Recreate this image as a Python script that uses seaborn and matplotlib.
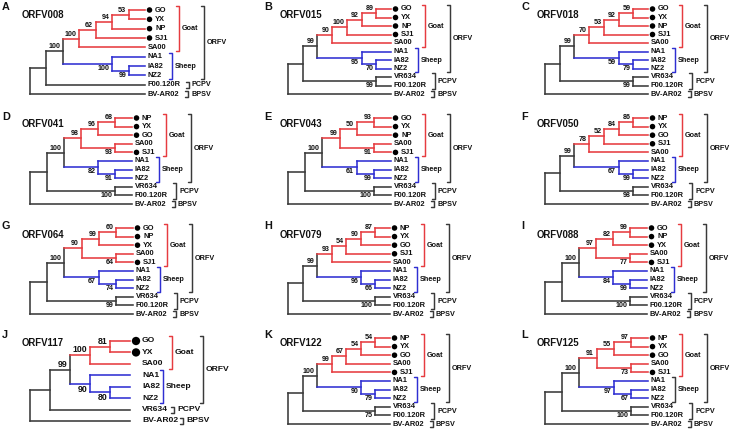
import numpy as np
import pandas as pd
import seaborn as sns
import matplotlib.pyplot as plt

# panels, left to right and top to bottom
letters = ["A", "B", "C", "D", "E", "F", "G", "H", "I", "J", "K", "L"]
genes = ["ORFV008", "ORFV015", "ORFV018", "ORFV041", "ORFV043", "ORFV050",
         "ORFV064", "ORFV079", "ORFV088", "ORFV117", "ORFV122", "ORFV125"]

# sub-trees in newick with bootstrap support, tips written top to bottom
goat_clades = [
    "((((GO,YX)53,NP)94,SJ1)62,SA00)100",
    "((((GO,YX)89,NP)92,SJ1)100,SA00)90",
    "((((GO,YX)59,NP)92,SJ1)53,SA00)70",
    "(((NP,YX)68,GO)96,(SA00,SJ1)93)98",
    "(((GO,YX)93,NP)50,(SA00,SJ1)91)99",
    "((((NP,YX)86,GO)84,SJ1)52,SA00)78",
    "(((GO,NP)60,YX)99,(SA00,SJ1)64)90",
    "((((NP,YX)87,GO)90,SJ1)54,SA00)93",
    "(((GO,NP)99,YX)82,(SA00,SJ1)77)97",
    "((GO,YX)81,SA00)100",
    "((((NP,YX)54,GO)54,SA00)67,SJ1)99",
    "(((NP,YX)97,GO)55,(SA00,SJ1)73)91",
]
sheep_clades = [
    "(NA1,(IA82,NZ2)99)100", "(NA1,(IA82,NZ2)70)95", "(NA1,(IA82,NZ2)79)59",
    "(NA1,(IA82,NZ2)91)82", "(NA1,(IA82,NZ2)99)61", "(NA1,(IA82,NZ2)99)67",
    "(NA1,(IA82,NZ2)74)67", "(NA1,(IA82,NZ2)66)96", "(NA1,(IA82,NZ2)99)84",
    "(NA1,(IA82,NZ2)80)90", "(NA1,(IA82,NZ2)79)90", "(NA1,(IA82,NZ2)67)97",
]
orfv_support = ["100", "99", "99", "100", "100", "99", "100", "99", "100", "99", "100", "100"]
pcpv_clades = [
    "F00.120R", "(VR634,F00.120R)99", "(VR634,F00.120R)99",
    "(VR634,F00.120R)100", "(VR634,F00.120R)100", "(VR634,F00.120R)98",
    "(VR634,F00.120R)99", "(VR634,F00.120R)100", "(VR634,F00.120R)100",
    "VR634", "(VR634,F00.120R)75", "(VR634,F00.120R)100",
]

dot_tips = ["GO", "YX", "NP", "SJ1"]
goat_tips = ["GO", "YX", "NP", "SJ1", "SA00"]
sheep_tips = ["NA1", "IA82", "NZ2"]
pcpv_tips = ["VR634", "F00.120R"]
bpsv_tips = ["BV-AR02"]

# layout (pixels)
col_x = [0, 243, 485]
letter_dx = [2, 21, 36]
title_dx = [22, 37, 52]
root_dx = [30, 45, 60]
tip_dx = [145, 148, 163, 132, 148, 163, 133, 147, 162, 130, 147, 163]
top_y = [10, 9, 9, 118, 118, 118, 228, 228, 228, 341, 338, 338]
bot_y = [94, 94, 94, 204, 204, 204, 314, 314, 314, 421, 424, 424]
letter_y = [7, 117, 226, 335]
title_y = [15, 124, 235, 343]

RED, BLUE, GRAY = "#e63c40", "#2f2fd2", "#3a3a3a"
pal = {"goat": RED, "sheep": BLUE, "other": GRAY}


def parse(s):
    pos = 0

    def read():
        nonlocal pos
        if s[pos] == "(":
            pos += 1
            kids = [read()]
            while s[pos] == ",":
                pos += 1
                kids.append(read())
            pos += 1
            start = pos
            while pos < len(s) and s[pos] not in ",)":
                pos += 1
            return {"kids": kids, "name": None, "support": s[start:pos] or None}
        start = pos
        while s[pos] not in ",)":
            pos += 1
        return {"kids": [], "name": s[start:pos], "support": None}

    return read()


def leaves(n):
    if not n["kids"]:
        return [n["name"]]
    return [t for k in n["kids"] for t in leaves(k)]


def depth(n):
    return 0 if not n["kids"] else 1 + max(depth(k) for k in n["kids"])


def place(n, x_tip, step, ys, counter):
    if not n["kids"]:
        n["x"], n["y"] = x_tip, ys[counter[0]]
        counter[0] += 1
        return
    for k in n["kids"]:
        place(k, x_tip, step, ys, counter)
    n["x"] = x_tip - step * depth(n)
    n["y"] = (n["kids"][0]["y"] + n["kids"][-1]["y"]) / 2


def paint(n, clade, goat_set, sheep_set):
    tips = set(leaves(n))
    if tips == goat_set:
        clade = "goat"
    elif tips == sheep_set:
        clade = "sheep"
    n["clade"] = clade
    for k in n["kids"]:
        paint(k, clade, goat_set, sheep_set)


seg_rows, brk_rows, dot_rows, texts = [], [], [], []
seg_id = [0]


def add_line(rows, pts, clade):
    for x, y in pts:
        rows.append({"seg": seg_id[0], "x": x, "y": y, "clade": clade})
    seg_id[0] += 1


def collect(n, parent, big):
    if parent is not None:
        add_line(seg_rows, [(parent["x"], n["y"]), (n["x"], n["y"])], n["clade"])
    if not n["kids"]:
        return
    add_line(seg_rows, [(n["x"], n["kids"][0]["y"]), (n["x"], n["kids"][-1]["y"])], n["clade"])
    if parent is not None and n["support"]:
        fs = 6.3 if big else 5.1
        if n["y"] < parent["y"]:
            texts.append((n["x"] - 2.5, n["y"] - 1.0, n["support"], fs, "right", "bottom"))
        else:
            texts.append((n["x"] - 2.5, n["y"] + 1.0, n["support"], fs, "right", "top"))
    for k in n["kids"]:
        collect(k, n, big)


for i in range(len(letters)):
    col, row = i % 3, i // 3
    ox = col_x[col]
    big = letters[i] == "J"
    newick = ("(((" + goat_clades[i] + "," + sheep_clades[i] + ")" + orfv_support[i]
              + "," + pcpv_clades[i] + "),BV-AR02)")
    root = parse(newick)
    tips = leaves(root)
    ys = np.linspace(top_y[i], bot_y[i], len(tips))
    x_tip = ox + tip_dx[i]
    step = (tip_dx[i] - root_dx[col]) / depth(root)
    place(root, x_tip, step, ys, [0])
    paint(root, "other", set(goat_tips) & set(tips), set(sheep_tips) & set(tips))
    collect(root, None, big)

    # panel letter and gene name
    texts.append((ox + letter_dx[col], letter_y[row], letters[i], 7.8, "left", "center"))
    texts.append((ox + title_dx[col], title_y[row], genes[i], 6.9, "left", "center"))

    # tip labels and dots
    tip_fs = 6.1 if big else 5.4
    for t, y in zip(tips, ys):
        if t in dot_tips:
            dot_rows.append({"x": x_tip + (6 if big else 4.5), "y": y, "s": 36 if big else 16})
            texts.append((x_tip + (12 if big else 10), y, t, tip_fs, "left", "center"))
        else:
            texts.append((x_tip + (12 if big else 2.5), y, t, tip_fs, "left", "center"))

    # group brackets
    sp = ys[1] - ys[0]
    off = ({"Goat": 42, "Sheep": 33, "ORFV": 73, "PCPV": 44, "BPSV": 53} if big else
           {"Goat": 34, "Sheep": 27, "ORFV": 59, "PCPV": 44, "BPSV": 43})
    groups = [("Goat", goat_tips, "goat"),
              ("Sheep", sheep_tips, "other" if letters[i] == "L" else "sheep"),
              ("ORFV", goat_tips + sheep_tips, "other"),
              ("PCPV", pcpv_tips, "other"),
              ("BPSV", bpsv_tips, "other")]
    grp_fs = 6.1 if big else 5.2
    for name, members, clade in groups:
        gy = [y for t, y in zip(tips, ys) if t in members]
        m = 0.42 * sp if len(gy) > 1 else 3.0
        y0, y1 = min(gy) - m, max(gy) + m
        bx = x_tip + off[name]
        add_line(brk_rows, [(bx - 3.5, y0), (bx, y0), (bx, y1), (bx - 3.5, y1)], clade)
        texts.append((bx + 3, (y0 + y1) / 2, name, grp_fs, "left", "center"))

seg_df = pd.DataFrame(seg_rows)
brk_df = pd.DataFrame(brk_rows)
dot_df = pd.DataFrame(dot_rows)

sns.set_style("white")
plt.rcParams["font.family"] = ["Liberation Sans", "DejaVu Sans"]

fig = plt.figure(figsize=(7.3, 4.3), dpi=100)
ax = fig.add_axes([0, 0, 1, 1])

sns.lineplot(data=seg_df, x="x", y="y", units="seg", estimator=None, hue="clade",
             palette=pal, sort=False, legend=False, linewidth=1.15, ax=ax,
             solid_capstyle="projecting")
sns.lineplot(data=brk_df, x="x", y="y", units="seg", estimator=None, hue="clade",
             palette=pal, sort=False, legend=False, linewidth=1.05, ax=ax)
sns.scatterplot(data=dot_df, x="x", y="y", s=dot_df["s"].values, color="black",
                linewidth=0, legend=False, ax=ax)

for x, y, t, fs, ha, va in texts:
    ax.text(x, y, t, fontsize=fs, fontweight="bold", ha=ha, va=va, color="#111111")

ax.set_xlim(0, 730)
ax.set_ylim(430, 0)
ax.axis("off")

fig.savefig("out.png", dpi=100)
